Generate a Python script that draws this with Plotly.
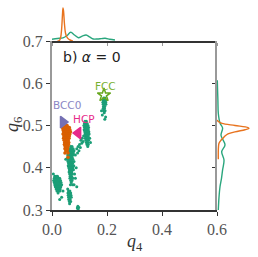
import plotly.graph_objects as go

# ---- data ----
orange_q4 = [0.040,0.045,0.050,0.055,
             0.038,0.043,0.048,0.053,0.058,0.063,
             0.040,0.045,0.050,0.055,0.060,0.065,
             0.042,0.047,0.052,0.057,0.062,0.067,
             0.040,0.045,0.050,0.055,0.060,0.065,
             0.043,0.048,0.053,0.058,0.063,
             0.042,0.047,0.052,0.057,0.062,
             0.044,0.049,0.054,0.059,
             0.046,0.051,0.056,0.061,
             0.045,0.050,0.055,0.060,
             0.048,0.053,0.058,
             0.047,0.052,0.057,
             0.050,0.055,
             0.047,0.058,
             0.058]
orange_q6 = [0.500,0.500,0.500,0.500,
             0.495,0.495,0.495,0.495,0.495,0.495,
             0.490,0.490,0.490,0.490,0.490,0.490,
             0.485,0.485,0.485,0.485,0.485,0.485,
             0.480,0.480,0.480,0.480,0.480,0.480,
             0.475,0.475,0.475,0.475,0.475,
             0.470,0.470,0.470,0.470,0.470,
             0.465,0.465,0.465,0.465,
             0.460,0.460,0.460,0.460,
             0.455,0.455,0.455,0.455,
             0.450,0.450,0.450,
             0.445,0.445,0.445,
             0.440,0.440,
             0.435,0.435,
             0.425]

green_q4 = [
    # cluster near (0.02, 0.365)
    0.010,0.015,0.020,
    0.008,0.013,0.018,0.023,0.028,
    0.006,0.011,0.016,0.021,0.026,0.031,
    0.008,0.013,0.018,0.023,0.028,0.033,
    0.010,0.015,0.020,0.025,0.030,0.035,
    0.012,0.017,0.022,0.027,0.032,
    0.015,0.020,0.025,0.030,
    0.018,0.024,0.029,
    0.022,
    0.035,0.028,0.040,0.005,
    # elongated cluster near (0.07, 0.40)
    0.068,0.073,
    0.062,0.067,0.072,0.077,
    0.060,0.065,0.070,0.075,0.080,
    0.058,0.063,0.068,0.073,0.078,
    0.057,0.062,0.067,0.072,0.077,
    0.058,0.063,0.068,0.073,
    0.056,0.061,0.066,0.071,0.076,
    0.058,0.063,0.068,0.073,0.080,
    0.060,0.065,0.070,0.075,
    0.059,0.064,0.069,0.074,0.079,
    0.061,0.066,0.071,0.076,
    0.063,0.068,0.073,0.078,
    0.062,0.067,0.072,
    0.064,0.069,0.074,0.082,
    0.066,0.071,
    0.065,0.070,0.076,
    0.068,0.073,
    0.070,
    0.067,0.075,
    0.085,0.090,0.080,0.050,0.088,0.085,
    # small cluster near (0.065, 0.33)
    0.060,0.065,
    0.058,0.063,0.068,
    0.059,0.064,0.069,
    0.060,0.065,0.070,
    0.061,0.066,
    0.063,0.068,
    0.064,
    0.057,
    # tiny bottom cluster
    0.092,0.095,0.097,0.094,
    # tall cluster near (0.125, 0.48)
    0.120,0.125,
    0.118,0.123,0.128,
    0.116,0.121,0.126,0.131,
    0.118,0.123,0.128,0.133,
    0.117,0.122,0.127,0.132,
    0.119,0.124,0.129,0.134,
    0.120,0.125,0.130,0.135,
    0.122,0.127,0.132,
    0.121,0.126,0.131,0.137,
    0.123,0.128,0.133,
    0.125,0.130,0.140,
    0.127,0.132,
    0.130,
    0.110,0.105,0.100,0.095,0.090,0.108,0.113,0.098,0.103,0.115,0.093,
    # cluster below FCC
    0.188,0.193,
    0.186,0.191,0.196,
    0.185,0.190,0.195,
    0.186,0.191,0.196,
    0.187,0.192,
    0.186,0.191,
    0.188,0.193,
    0.190,
    0.183,0.195,0.192,0.180,
]
green_q6 = [
    0.380,0.380,0.380,
    0.375,0.375,0.375,0.375,0.375,
    0.370,0.370,0.370,0.370,0.370,0.370,
    0.365,0.365,0.365,0.365,0.365,0.365,
    0.360,0.360,0.360,0.360,0.360,0.360,
    0.355,0.355,0.355,0.355,0.355,
    0.350,0.350,0.350,0.350,
    0.345,0.345,0.345,
    0.340,
    0.330,0.325,0.345,0.385,
    0.450,0.450,
    0.445,0.445,0.445,0.445,
    0.440,0.440,0.440,0.440,0.440,
    0.435,0.435,0.435,0.435,0.435,
    0.430,0.430,0.430,0.430,0.430,
    0.425,0.425,0.425,0.425,
    0.420,0.420,0.420,0.420,0.420,
    0.415,0.415,0.415,0.415,0.415,
    0.410,0.410,0.410,0.410,
    0.405,0.405,0.405,0.405,0.405,
    0.400,0.400,0.400,0.400,
    0.395,0.395,0.395,0.395,
    0.390,0.390,0.390,
    0.385,0.385,0.385,0.385,
    0.380,0.380,
    0.375,0.375,0.375,
    0.370,0.370,
    0.365,
    0.360,0.360,
    0.375,0.355,0.360,0.420,0.400,0.430,
    0.345,0.345,
    0.340,0.340,0.340,
    0.335,0.335,0.335,
    0.330,0.330,0.330,
    0.325,0.325,
    0.320,0.320,
    0.315,
    0.350,
    0.305,0.302,0.306,0.309,
    0.510,0.510,
    0.505,0.505,0.505,
    0.500,0.500,0.500,0.500,
    0.495,0.495,0.495,0.495,
    0.490,0.490,0.490,0.490,
    0.485,0.485,0.485,0.485,
    0.480,0.480,0.480,0.480,
    0.475,0.475,0.475,
    0.470,0.470,0.470,0.470,
    0.465,0.465,0.465,
    0.460,0.460,0.460,
    0.455,0.455,
    0.450,
    0.470,0.465,0.455,0.450,0.445,0.458,0.462,0.440,0.448,0.475,0.435,
    0.565,0.565,
    0.560,0.560,0.560,
    0.555,0.555,0.555,
    0.550,0.550,0.550,
    0.545,0.545,
    0.540,0.540,
    0.535,0.535,
    0.530,
    0.525,0.520,0.515,0.535,
]

# reference structures
ref_names = ["FCC", "BCC0", "HCP"]
ref_q4 = [0.189, 0.040, 0.095]
ref_q6 = [0.572, 0.508, 0.482]
label_q4 = [0.193, 0.055, 0.115]
label_q6 = [0.594, 0.548, 0.515]

# marginal densities (top: over q4, right: over q6)
top_green_q4 = [0.0, 0.02, 0.04, 0.055, 0.068, 0.082, 0.096, 0.110, 0.124, 0.138, 0.150, 0.165, 0.180, 0.193, 0.210, 0.229]
top_green_d  = [1.7, 2.5, 3.2, 5.5, 8.7, 6.0, 3.3, 4.8, 6.0, 3.8, 2.0, 2.0, 2.4, 2.7, 1.8, 1.0]
top_orange_q4 = [0.020, 0.027, 0.031, 0.035, 0.038, 0.040, 0.042, 0.045, 0.049, 0.054, 0.060, 0.066, 0.072, 0.076]
top_orange_d  = [0.0, 0.5, 3.0, 12.0, 26.0, 33.0, 30.0, 18.0, 8.0, 4.0, 2.0, 1.0, 0.4, 0.0]

right_green_q6 = [0.300, 0.330, 0.355, 0.375, 0.395, 0.418, 0.438, 0.454, 0.477, 0.494, 0.506, 0.529, 0.560, 0.590, 0.607]
right_green_d  = [1.3, 2.0, 3.0, 4.5, 5.6, 7.0, 4.7, 8.0, 4.0, 5.6, 3.0, 1.3, 0.9, 0.5, 0.3]
right_orange_q6 = [0.420, 0.440, 0.450, 0.458, 0.465, 0.470, 0.475, 0.480, 0.485, 0.490, 0.493, 0.495, 0.500, 0.505, 0.510, 0.513]
right_orange_d  = [1.3, 1.3, 1.5, 2.0, 4.0, 6.0, 8.0, 11.0, 18.0, 28.0, 32.0, 31.0, 18.0, 5.0, 1.0, 0.3]

x_ticks = [0.0, 0.2, 0.4, 0.6]
y_ticks = [0.3, 0.4, 0.5, 0.6, 0.7]

GREEN = "#1b9e77"
ORANGE = "#d95f02"
W, H = 258, 257

fig = go.Figure()
fig.add_trace(go.Scatter(x=green_q4, y=green_q6, mode="markers",
                         marker=dict(color=GREEN, size=3), xaxis="x", yaxis="y", showlegend=False))
fig.add_trace(go.Scatter(x=orange_q4, y=orange_q6, mode="markers",
                         marker=dict(color=ORANGE, size=3.5), xaxis="x", yaxis="y", showlegend=False))

sym = ["star-open", "triangle-right", "triangle-left"]
cols = ["#66a61e", "#7570b3", "#e7298a"]
lab_cols = ["#77b030", "#8a86c4", "#e7298a"]
for i in range(3):
    fig.add_trace(go.Scatter(x=[ref_q4[i]], y=[ref_q6[i]], mode="markers",
                             marker=dict(symbol=sym[i], size=10, color=cols[i],
                                         line=dict(color=cols[i], width=1.5)),
                             xaxis="x", yaxis="y", showlegend=False))
    fig.add_annotation(x=label_q4[i], y=label_q6[i], xref="x", yref="y", text=ref_names[i],
                       xanchor="center", yanchor="middle",
                       showarrow=False, font=dict(family="DejaVu Sans", size=10.5, color=lab_cols[i]))

fig.add_trace(go.Scatter(x=top_green_q4, y=top_green_d, mode="lines", line=dict(color="#2aa67d", width=1.4, shape="spline"),
                         xaxis="x2", yaxis="y2", showlegend=False))
fig.add_trace(go.Scatter(x=top_orange_q4, y=top_orange_d, mode="lines", line=dict(color="#e8731e", width=1.4, shape="spline"),
                         xaxis="x2", yaxis="y2", showlegend=False))
fig.add_trace(go.Scatter(x=right_green_d, y=right_green_q6, mode="lines", line=dict(color="#2aa67d", width=1.4, shape="spline"),
                         xaxis="x3", yaxis="y3", showlegend=False))
fig.add_trace(go.Scatter(x=right_orange_d, y=right_orange_q6, mode="lines", line=dict(color="#e8731e", width=1.4, shape="spline"),
                         xaxis="x3", yaxis="y3", showlegend=False))

fig.add_annotation(x=0.145, y=0.662, xref="x", yref="y", text="b) <i>α</i> = 0", showarrow=False,
                   xanchor="center", yanchor="middle",
                   font=dict(family="DejaVu Sans", size=14, color="#222"))
fig.add_annotation(x=135 / W, y=1 - 242 / H, xref="paper", yref="paper", text="<i>q</i><sub>4</sub>",
                   xanchor="center", yanchor="middle",
                   showarrow=False, font=dict(family="Liberation Serif", size=18, color="#333"))
fig.add_annotation(x=13 / W, y=1 - 125 / H, xref="paper", yref="paper", text="<i>q</i><sub>6</sub>",
                   xanchor="center", yanchor="middle",
                   showarrow=False, textangle=-90, font=dict(family="Liberation Serif", size=18, color="#333"))

xd = [52 / W, 217 / W]
yd = [1 - 210 / H, 1 - 41 / H]
tickfont = dict(family="Liberation Serif", size=16, color="#555")
fig.update_layout(
    width=W, height=H, margin=dict(l=0, r=0, t=0, b=0, autoexpand=False),
    paper_bgcolor="white", plot_bgcolor="white",
    xaxis=dict(domain=xd, range=[0, 0.6], tickvals=x_ticks, ticktext=["0.0", "0.2", "0.4", "0.6"],
               showgrid=False, zeroline=False, showline=True, linecolor="#333", linewidth=1.5,
               ticks="outside", ticklen=4, tickcolor="#333", tickfont=tickfont, anchor="y", automargin=False),
    yaxis=dict(domain=yd, range=[0.3, 0.7], tickvals=y_ticks, ticktext=["0.3", "0.4", "0.5", "0.6", "0.7"],
               showgrid=False, zeroline=False, showline=True, linecolor="#999", linewidth=2,
               ticks="outside", ticklen=4, tickcolor="#333", tickfont=tickfont, anchor="x", automargin=False),
    xaxis2=dict(domain=xd, range=[0, 0.6], matches="x", tickvals=x_ticks, showticklabels=False,
                showgrid=False, zeroline=False, showline=True, linecolor="#333", linewidth=1.5,
                ticks="outside", ticklen=3, tickcolor="#999", anchor="y2", automargin=False),
    yaxis2=dict(domain=[1 - 41 / H, 1 - 4 / H], range=[0, 37], visible=False, anchor="x2", automargin=False),
    xaxis3=dict(domain=[217 / W, 253 / W], range=[0, 36], visible=False, anchor="y3", automargin=False),
    yaxis3=dict(domain=yd, range=[0.3, 0.7], tickvals=y_ticks, showticklabels=False,
                showgrid=False, zeroline=False, showline=True, linecolor="#999", linewidth=2,
                ticks="outside", ticklen=3, tickcolor="#333", anchor="x3", automargin=False),
)

fig.write_html("out.html", config={"displayModeBar": False},
               post_script="document.body.style.margin='0px';document.body.style.padding='0px';")
